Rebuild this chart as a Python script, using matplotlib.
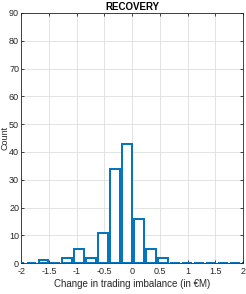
import matplotlib
matplotlib.use("Agg")
import matplotlib.pyplot as plt
import numpy as np

plt.rcParams["font.family"] = ["Liberation Sans Narrow", "Liberation Sans", "DejaVu Sans"]

# histogram bins (centres in €M) and counts
bin_width = 0.2155
bin_centers = -0.09 + bin_width * np.arange(-9, 11)
counts = [0, 0, 1, 0, 2, 5, 2, 11, 34, 43, 16, 5, 2, 0, 0, 0, 0, 0, 0, 0]

x_ticks = [-2, -1.5, -1, -0.5, 0, 0.5, 1, 1.5, 2]
x_tick_labels = ["-2", "-1.5", "-1", "-0.5", "0", "0.5", "1", "1.5", "2"]
y_ticks = list(range(0, 91, 10))

blue = (0.0, 0.447, 0.741)
axis_grey = (0.15, 0.15, 0.15)

fig = plt.figure(figsize=(2.46, 2.94), dpi=100)
ax = fig.add_axes([0.086, 0.105, 0.902, 0.851])

ax.bar(bin_centers, counts, width=bin_width * 0.82, facecolor="white",
       edgecolor=blue, linewidth=1.4, zorder=3, clip_on=True)

ax.set_xlim(-2, 2)
ax.set_ylim(0, 90)
ax.set_xticks(x_ticks)
ax.set_xticklabels(x_tick_labels)
ax.set_yticks(y_ticks)
ax.grid(True, color=(0.87, 0.87, 0.87), linewidth=0.6, zorder=0)
ax.set_axisbelow(True)

ax.tick_params(direction="in", length=2.5, width=0.6, labelsize=6.5,
               colors=axis_grey, top=True, right=True)
ax.tick_params(axis="x", pad=3)
ax.tick_params(axis="y", pad=1.5)
for spine in ax.spines.values():
    spine.set_color(axis_grey)
    spine.set_linewidth(0.6)

ax.set_title("RECOVERY", fontsize=7, fontweight="bold", pad=2)
ax.set_xlabel("Change in trading imbalance (in €M)", fontsize=7,
              color=axis_grey, labelpad=2)
ax.set_ylabel("Count", fontsize=6.5, color=axis_grey)
ax.yaxis.set_label_coords(-0.052, 0.5)

fig.savefig("out.png", dpi=100)
